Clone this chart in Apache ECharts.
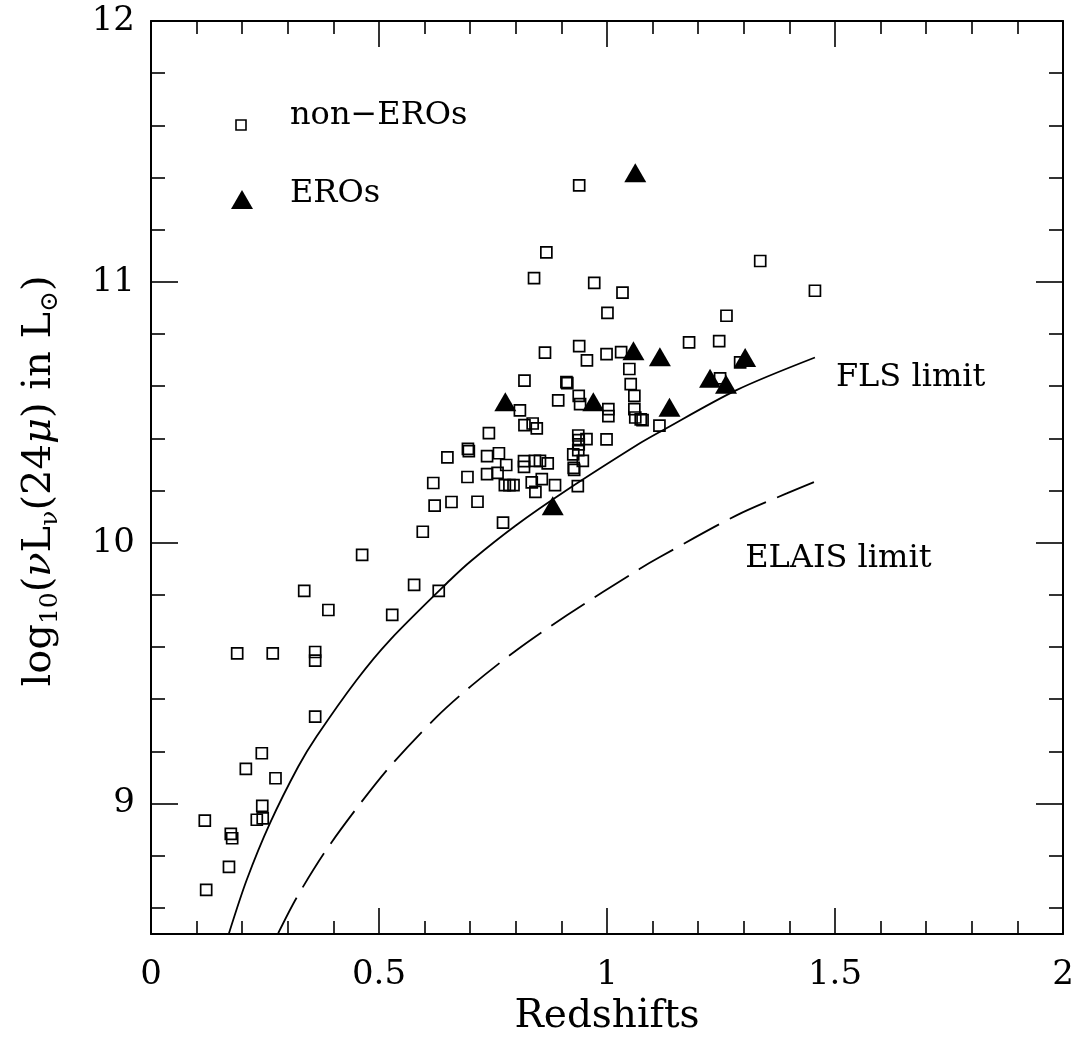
<!DOCTYPE html>
<html>
<head>
<meta charset="utf-8">
<script src="https://cdn.jsdelivr.net/npm/echarts@6/dist/echarts.min.js"></script>
<style>html,body{margin:0;padding:0;background:#fff;}#c{width:1083px;height:1042px;}</style>
</head>
<body>
<div id="c"></div>
<script>
// ---- data ----
const nonEroZ = [0.336,0.389,0.577,0.631,0.529,0.189,0.267,0.360,0.360,0.360,0.243,0.208,0.273,0.244,0.232,0.245,0.118,0.175,0.178,0.171,0.121,0.463,
  0.864,0.939,0.956,0.999,1.031,1.049,1.052,1.060,1.060,1.062,1.074,1.078,0.819,0.911,0.913,0.893,0.938,0.941,1.003,1.003,0.809,0.819,0.837,0.846,0.741,0.695,0.697,0.650,0.619,0.622,0.659,0.716,0.596,0.772,0.694,0.737,0.763,0.779,0.737,0.760,0.776,0.786,0.795,0.818,0.818,0.842,0.853,0.870,0.835,0.857,0.843,0.886,0.936,0.937,0.938,0.938,0.937,0.955,0.999,0.926,0.947,0.927,0.928,1.115,
  1.262,1.180,1.246,1.292,1.248,
  0.939,0.867,0.840,0.972,1.034,1.001,1.336,1.456];
const nonEroL = [9.815,9.742,9.838,9.815,9.723,9.576,9.576,9.581,9.548,9.333,9.193,9.133,9.097,8.991,8.938,8.943,8.935,8.884,8.867,8.757,8.669,9.953,
  10.729,10.754,10.699,10.723,10.731,10.666,10.608,10.563,10.512,10.480,10.473,10.470,10.621,10.616,10.612,10.546,10.563,10.531,10.512,10.485,10.507,10.451,10.457,10.438,10.420,10.360,10.351,10.327,10.229,10.142,10.156,10.157,10.042,10.077,10.252,10.332,10.343,10.298,10.263,10.268,10.221,10.221,10.221,10.313,10.291,10.314,10.314,10.304,10.231,10.244,10.195,10.221,10.217,10.411,10.393,10.377,10.355,10.397,10.396,10.339,10.314,10.287,10.279,10.449,
  10.870,10.768,10.773,10.691,10.630,
  11.370,11.113,11.014,10.996,10.959,10.881,11.080,10.966];
const eroZ = [1.062,0.777,0.970,1.058,0.881,1.116,1.226,1.261,1.303,1.137];
const eroL = [11.418,10.540,10.540,10.736,10.142,10.713,10.630,10.607,10.710,10.519];
const flsZ = [0.171,0.210,0.261,0.323,0.363,0.451,0.524,0.656,0.703,0.800,0.912,1.072,1.116,1.284,1.456];
const flsL = [8.503,8.708,8.925,9.142,9.257,9.474,9.627,9.857,9.932,10.066,10.202,10.381,10.425,10.585,10.710];
const elaisZ = [0.279,0.319,0.382,0.451,0.524,0.627,0.703,0.800,0.912,1.072,1.116,1.284,1.394,1.456];
const elaisL = [8.503,8.638,8.816,8.982,9.142,9.333,9.452,9.586,9.722,9.900,9.945,10.105,10.189,10.234];
const xTicks = [0, 0.5, 1, 1.5, 2];
const yMajor = [9, 10, 11, 12];
const yMinor = [8.6,8.8,9.2,9.4,9.6,9.8,10.2,10.4,10.6,10.8,11.2,11.4,11.6,11.8];
const curveLabels = [{name:'FLS limit', z:1.502, l:10.631}, {name:'ELAIS limit', z:1.303, l:9.94}];

const zip = (a, b) => a.map((v, i) => [v, b[i]]);
const FONT = 'DejaVu Serif';
const chart = echarts.init(document.getElementById('c'), null, {renderer: 'canvas'});

const yBase = {type: 'value', min: 8.5, max: 12, splitLine: {show: false}};
const option = {
  animation: false,
  backgroundColor: '#fff',
  grid: {left: 151, right: 20, top: 21, bottom: 108, containLabel: false, outerBoundsMode: 'none'},
  xAxis: [
    {type: 'value', min: 0, max: 2, interval: 0.5, position: 'bottom',
     name: 'Redshifts', nameLocation: 'middle', nameGap: 63,
     nameTextStyle: {fontFamily: FONT, fontSize: 39, color: '#000'},
     axisLine: {show: true, lineStyle: {color: '#000', width: 2}},
     axisTick: {show: true, inside: true, length: 26, lineStyle: {color: '#000', width: 1.6}},
     minorTick: {show: true, splitNumber: 5, length: 13, lineStyle: {color: '#000', width: 1.6}},
     axisLabel: {show: true, margin: 24, fontFamily: FONT, fontSize: 34, color: '#000',
       customValues: xTicks, formatter: v => String(v)},
     splitLine: {show: false}, minorSplitLine: {show: false}},
    {type: 'value', min: 0, max: 2, interval: 0.5, position: 'top',
     axisLine: {show: true, lineStyle: {color: '#000', width: 2}},
     axisTick: {show: true, inside: true, length: 26, lineStyle: {color: '#000', width: 1.6}},
     minorTick: {show: true, splitNumber: 5, length: 13, lineStyle: {color: '#000', width: 1.6}},
     axisLabel: {show: false}, splitLine: {show: false}}
  ],
  yAxis: [
    Object.assign({}, yBase, {position: 'left',
      axisLine: {show: true, lineStyle: {color: '#000', width: 2}},
      axisTick: {show: true, inside: true, length: 27, customValues: yMajor, lineStyle: {color: '#000', width: 1.6}},
      axisLabel: {show: true, margin: 16, fontFamily: FONT, fontSize: 34, color: '#000', customValues: yMajor}}),
    Object.assign({}, yBase, {position: 'left',
      axisLine: {show: false},
      axisTick: {show: true, inside: true, length: 14, customValues: yMinor, lineStyle: {color: '#000', width: 1.6}},
      axisLabel: {show: false}}),
    Object.assign({}, yBase, {position: 'right',
      axisLine: {show: true, lineStyle: {color: '#000', width: 2}},
      axisTick: {show: true, inside: true, length: 27, customValues: yMajor, lineStyle: {color: '#000', width: 1.6}},
      axisLabel: {show: false}}),
    Object.assign({}, yBase, {position: 'right',
      axisLine: {show: false},
      axisTick: {show: true, inside: true, length: 14, customValues: yMinor, lineStyle: {color: '#000', width: 1.6}},
      axisLabel: {show: false}})
  ],
  series: [
    {name: 'FLS limit', type: 'line', data: zip(flsZ, flsL), smooth: 0.3, showSymbol: false, symbol: 'none',
     lineStyle: {color: '#000', width: 1.8}, z: 2, silent: true},
    {name: 'ELAIS limit', type: 'line', data: zip(elaisZ, elaisL), smooth: 0.3, showSymbol: false, symbol: 'none',
     lineStyle: {color: '#000', width: 1.8, type: [40, 12]}, z: 2, silent: true},
    {name: 'non−EROs', type: 'scatter', data: zip(nonEroZ, nonEroL), symbol: 'rect', symbolSize: 11,
     itemStyle: {color: 'rgba(255,255,255,0)', borderColor: '#000', borderWidth: 1.7, opacity: 1}, z: 3},
    {name: 'EROs', type: 'scatter', data: zip(eroZ, eroL), symbol: 'triangle', symbolSize: [22, 19],
     itemStyle: {color: '#000', opacity: 1}, z: 4},
    {name: 'labels', type: 'scatter', symbolSize: 0, silent: true, z: 5,
     itemStyle: {opacity: 1},
     data: curveLabels.map(d => ({value: [d.z, d.l], name: d.name})),
     label: {show: true, position: 'right', distance: 0, formatter: p => p.name,
       fontFamily: FONT, fontSize: 32, color: '#000', opacity: 1}}
  ],
  graphic: [
    {type: 'rect', shape: {x: 236, y: 120, width: 10, height: 10}, style: {fill: 'none', stroke: '#000', lineWidth: 1.6}},
    {type: 'text', x: 290, y: 116, style: {text: 'non−EROs', font: '32px "DejaVu Serif"', fill: '#000', textVerticalAlign: 'middle'}},
    {type: 'polygon', shape: {points: [[242, 190], [253, 209], [231, 209]]}, style: {fill: '#000'}},
    {type: 'text', x: 290, y: 194, style: {text: 'EROs', font: '32px "DejaVu Serif"', fill: '#000', textVerticalAlign: 'middle'}},
    {type: 'text', x: 40, y: 481, rotation: Math.PI / 2,
     style: {
       text: '{a|log}{s|10}{a|(}{i|ν}{a|L}{s|ν}{a|(24}{i|μ}{a|) in L}{s|⊙}{a|)}',
       align: 'center', verticalAlign: 'middle', fill: '#000',
       rich: {
         a: {fontFamily: FONT, fontSize: 40, lineHeight: 46, verticalAlign: 'middle'},
         i: {fontFamily: FONT, fontSize: 40, fontStyle: 'italic', lineHeight: 46, verticalAlign: 'middle'},
         s: {fontFamily: FONT, fontSize: 25, lineHeight: 28, verticalAlign: 'bottom'}
       }
     }}
  ]
};
chart.setOption(option);
</script>
</body>
</html>
